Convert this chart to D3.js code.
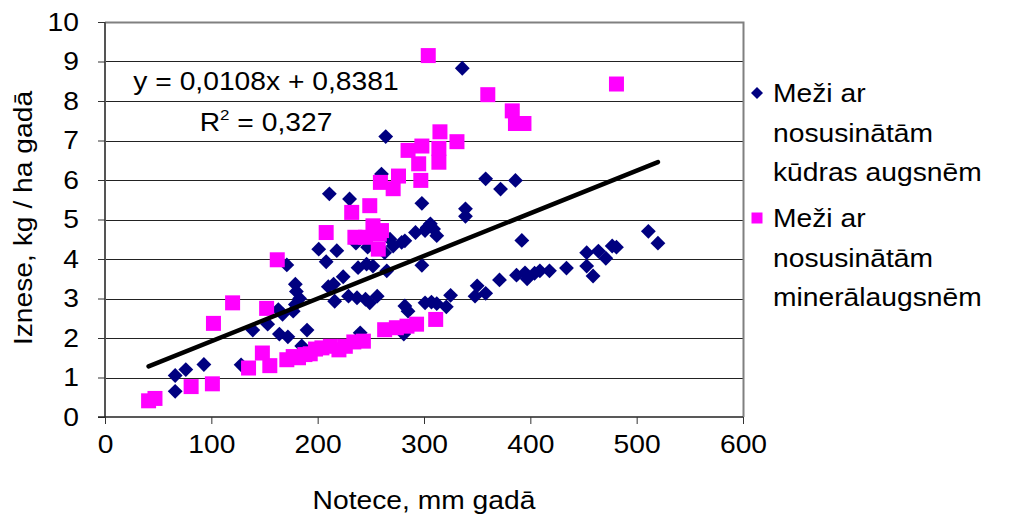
<!DOCTYPE html>
<html>
<head>
<meta charset="utf-8">
<script src="https://cdn.jsdelivr.net/npm/d3@7/dist/d3.min.js"></script>
<style>
body{margin:0;background:#fff}
text{font-family:"Liberation Sans",Arial,sans-serif;fill:#000}
</style>
</head>
<body>
<div id="chart"></div>
<script>
// Meži ar nosusinātām kūdras augsnēm (diamonds)
var peatX = [66,66,76,93,128,139,153,164,172,163,167,177,179,183,171,179,180,185,190,201,208,210,215,216,218,211,224,229,230,237,238,240,245,246,249,252,256,236,247,260,264,263,265,268,271,279,282,281,282,285,292,298,298,301,303,301,306,309,312,307,312,321,325,336,339,339,348,350,358,358,371,372,386,387,392,395,397,404,409,418,434,453,453,459,464,471,477,481,511,520]
var peatY = [0.65,1.05,1.2,1.33,1.32,2.2,2.35,2.1,2.03,2.72,2.6,2.68,2.85,3.0,3.85,3.36,3.18,1.8,2.2,4.25,3.93,3.3,3.36,2.93,4.21,5.65,3.55,3.06,5.52,3.02,3.78,2.13,2.98,3.87,2.89,3.82,3.06,4.4,4.3,6.15,7.1,4.16,3.7,4.5,4.33,4.42,4.46,2.1,2.81,2.68,4.67,5.41,3.84,2.89,4.8,4.72,4.89,4.76,4.59,2.91,2.87,2.79,3.08,8.83,5.27,5.08,3.06,3.32,3.13,6.03,3.47,5.77,5.99,3.59,4.47,3.65,3.5,3.64,3.7,3.7,3.77,4.16,3.82,3.57,4.2,4.02,4.33,4.3,4.7,4.4]
// Meži ar nosusinātām minerālaugsnēm (squares)
var mineralX = [41,47,81,101,102,120,135,148,155,152,162,171,177,182,188,193,198,204,208,212,220,226,232,234,235,243,245,249,252,257,258,260,259,263,271,274,276,284,285,293,295,297,298,304,311,314,314,315,331,360,383,386,394,481]
var mineralY = [0.41,0.47,0.77,0.84,2.37,2.89,1.24,1.62,1.3,2.75,3.98,1.45,1.53,1.5,1.58,1.6,1.72,1.75,4.67,1.79,1.7,1.79,5.18,1.9,4.55,1.92,4.55,5.35,4.84,4.25,4.63,4.72,5.94,2.21,5.78,2.26,6.1,2.3,6.75,2.35,6.41,5.99,6.86,9.15,2.47,6.45,6.8,7.22,6.97,8.16,7.75,7.43,7.43,8.43]

var xTicks = [0,100,200,300,400,500,600]
var yTicks = [0,1,2,3,4,5,6,7,8,9,10]
var peatLegend = ["Meži ar","nosusinātām","kūdras augsnēm"]
var mineralLegend = ["Meži ar","nosusinātām","minerālaugsnēm"]
var trendSlope = 0.0108
var trendIntercept = 0.8381
var eqText = "y = 0,0108x + 0,8381"
var r2Text = ["R","2"," = 0,327"]
var xTitle = "Notece, mm gadā"
var yTitle = "Iznese, kg / ha gadā"

var width = 1011
var height = 521
var stretch = "scale(1.13,1)"

var svg = d3.select("#chart").append("svg")
    .attr("width", width)
    .attr("height", height)

var x = d3.scaleLinear().domain([0,600]).range([105,743])
var y = d3.scaleLinear().domain([0,10]).range([417,22])

// grid lines
svg.append("g")
  .selectAll("line")
  .data(yTicks.slice(1,yTicks.length-1))
  .enter().append("line")
    .attr("x1", x(0)).attr("x2", x(600))
    .attr("y1", function(d){ return Math.round(y(d))+0.5 })
    .attr("y2", function(d){ return Math.round(y(d))+0.5 })
    .attr("stroke","#222")
    .attr("stroke-width",1)

// plot frame top + right
svg.append("path")
    .attr("d","M"+x(0)+","+(y(10)+0.5)+"H"+(x(600)+0.5)+"V"+y(0))
    .attr("fill","none")
    .attr("stroke","#808080")
    .attr("stroke-width",2)

// axes
var yAxis = svg.append("g")
    .attr("transform","translate("+x(0)+",0)")
    .call(d3.axisLeft(y).tickValues(yTicks).tickSize(7).tickPadding(16))
var xAxis = svg.append("g")
    .attr("transform","translate(0,"+y(0)+")")
    .call(d3.axisBottom(x).tickValues(xTicks).tickSize(7).tickPadding(11))

yAxis.select(".domain").attr("stroke","#555").attr("stroke-width",2).attr("d","M0,"+y(10)+"V"+y(0))
xAxis.select(".domain").attr("stroke","#222").attr("stroke-width",1.5).attr("d","M"+(x(0)-7)+",0H"+x(600))
svg.selectAll(".tick line").attr("stroke","#333")
svg.selectAll(".tick text")
    .style("font-size","25px")
    .attr("font-family",null)
    .attr("transform",stretch)

// points
var peat = peatX.map(function(v,i){ return {x:v, y:peatY[i]} })
var mineral = mineralX.map(function(v,i){ return {x:v, y:mineralY[i]} })

var diamond = d3.symbol().type(d3.symbolSquare).size(110)
var square = d3.symbol().type(d3.symbolSquare).size(225)

svg.append("g")
  .selectAll("path")
  .data(peat)
  .enter().append("path")
    .attr("d", diamond)
    .attr("transform", function(d){ return "translate("+x(d.x)+","+y(d.y)+") rotate(45)" })
    .attr("fill","#000080")

svg.append("g")
  .selectAll("path")
  .data(mineral)
  .enter().append("path")
    .attr("d", square)
    .attr("transform", function(d){ return "translate("+x(d.x)+","+y(d.y)+")" })
    .attr("fill","#ff00ff")

// trend line over all points
var allX = peatX.concat(mineralX)
var trend = d3.extent(allX).map(function(v){ return {x:v, y:trendSlope*v+trendIntercept} })
svg.append("path")
    .datum(trend)
    .attr("d", d3.line().x(function(d){ return x(d.x) }).y(function(d){ return y(d.y) }))
    .attr("stroke","#000")
    .attr("stroke-width",4.5)
    .attr("stroke-linecap","round")
    .attr("fill","none")

// equation
svg.append("text")
    .attr("transform","translate(266,90) "+stretch)
    .attr("text-anchor","middle")
    .style("font-size","25px")
    .text(eqText)
var r2 = svg.append("text")
    .attr("transform","translate(266,131) "+stretch)
    .attr("text-anchor","middle")
    .style("font-size","25px")
r2.append("tspan").text(r2Text[0])
r2.append("tspan").attr("dy",-11).style("font-size","15px").text(r2Text[1])
r2.append("tspan").attr("dy",11).text(r2Text[2])

// axis titles
svg.append("text")
    .attr("transform","translate(424,509) "+stretch)
    .attr("text-anchor","middle")
    .style("font-size","25px")
    .text(xTitle)
svg.append("text")
    .attr("transform","translate(32,218) rotate(-90) "+stretch)
    .attr("text-anchor","middle")
    .style("font-size","25px")
    .text(yTitle)

// legend
function legend(lines, top, sym, rot, color){
  var g = svg.append("g").attr("transform","translate(0,"+top+")")
  g.append("path")
    .attr("d", sym)
    .attr("transform","translate(757,-9)"+(rot ? " rotate(45)" : ""))
    .attr("fill", color)
  g.selectAll("text")
    .data(lines)
    .enter().append("text")
      .attr("transform", function(d,i){ return "translate(773,"+(i*39.5)+") "+stretch })
      .style("font-size","25px")
      .text(function(d){ return d })
}
legend(peatLegend, 102, d3.symbol().type(d3.symbolSquare).size(72), true, "#000080")
legend(mineralLegend, 227, d3.symbol().type(d3.symbolSquare).size(121), false, "#ff00ff")
</script>
</body>
</html>
